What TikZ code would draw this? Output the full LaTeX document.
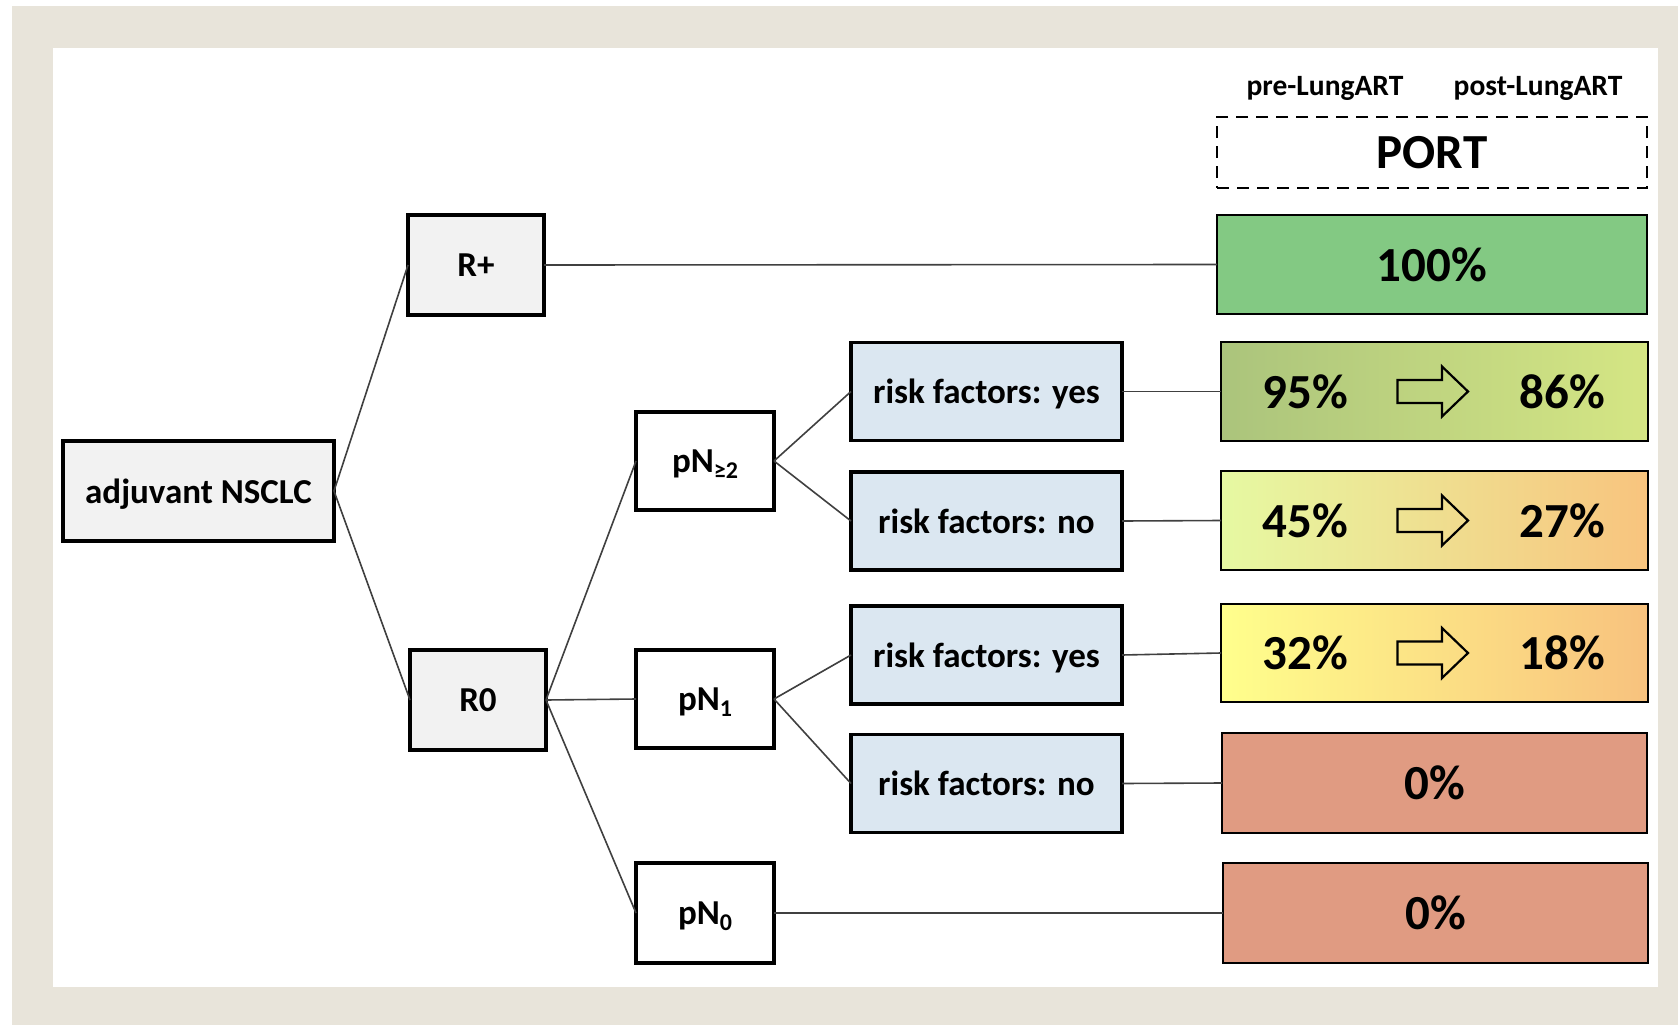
\documentclass[tikz,border=0pt]{standalone}
\usepackage{fontspec}
\usetikzlibrary{calc}
\setmainfont{Carlito}
\definecolor{beige}{HTML}{E8E4DA}
\definecolor{boxgrey}{HTML}{F2F2F2}
\definecolor{riskblue}{HTML}{DBE7F1}
\definecolor{greenfull}{HTML}{83C983}
\definecolor{salmon}{HTML}{E09B82}
\definecolor{gAleft}{HTML}{ABC47C}
\definecolor{gAright}{HTML}{D5E684}
\definecolor{gBleft}{HTML}{E6F9A2}
\definecolor{gBright}{HTML}{F8C47E}
\definecolor{gCleft}{HTML}{FFFF8C}
\definecolor{gCright}{HTML}{F8C27E}
\definecolor{linegrey}{HTML}{404040}
\newcommand{\lowsub}[1]{\raisebox{-6pt}{\fontsize{24}{24}\selectfont #1}}
\begin{document}
\begin{tikzpicture}[x=1pt,y=-1pt,
  every node/.style={font=\fontsize{35}{40}\selectfont\bfseries, inner sep=0pt, outer sep=0pt, text depth=0pt},
  box/.style={draw=black, line width=3.5pt, rectangle},
  greybox/.style={box, fill=boxgrey, minimum width=136pt, minimum height=100pt},
  pnbox/.style={box, fill=white, minimum width=138pt, minimum height=98pt},
  riskbox/.style={box, fill=riskblue, minimum width=271pt, minimum height=98pt},
  resbox/.style={draw=black, line width=2.5pt, rectangle, minimum width=427pt, minimum height=99pt, font=\fontsize{49}{54}\selectfont\bfseries},
  pct/.style={font=\fontsize{49}{54}\selectfont\bfseries},
  headlabel/.style={font=\fontsize{29.5}{34}\selectfont\bfseries},
  conn/.style={draw=linegrey, line width=1.6pt},
  blockarrow/.style={draw=black, line width=2.2pt, line join=miter}
]
\useasboundingbox (0,0) rectangle (1678,1025);
\fill[white] (0,0) rectangle (1678,1025);
\fill[beige] (12,6) rectangle (1678,1025);
\fill[white] (53,48) rectangle (1658,987);

% left tree
\node[greybox, minimum width=271pt] (adj) at (198.5,491) {adjuvant NSCLC};
\node[greybox] (rplus) at (476,265) {R+};
\node[greybox] (rzero) at (478,700) {R0};
\node[pnbox] (pn2) at (705,461) {pN\lowsub{≥2}};
\node[pnbox] (pn1) at (705,699) {pN\lowsub{1}};
\node[pnbox, minimum height=100pt] (pn0) at (705,913) {pN\lowsub{0}};
\node[riskbox] (ry1) at (986.5,391.5) {risk factors: yes};
\node[riskbox] (rn1) at (986.5,521) {risk factors: no};
\node[riskbox] (ry2) at (986.5,655) {risk factors: yes};
\node[riskbox] (rn2) at (986.5,783.5) {risk factors: no};

% right column
\node[headlabel] (pre) at (1325,86) {pre-LungART};
\node[headlabel] (post) at (1538,86) {post-LungART};
\node[draw=black, line width=2.5pt, dash pattern=on 12pt off 8pt, minimum width=430pt, minimum height=71pt, font=\fontsize{49}{54}\selectfont\bfseries] (port) at (1432,152.5) {PORT};
\node[resbox, fill=greenfull, minimum width=430pt] (r100) at (1432,264.5) {100\%};
\node[resbox, left color=gAleft, right color=gAright] (gA) at (1434.5,391.5) {};
\node[resbox, left color=gBleft, right color=gBright] (gB) at (1434.5,520.5) {};
\node[resbox, left color=gCleft, right color=gCright, minimum height=98pt] (gC) at (1434.5,653) {};
\node[resbox, fill=salmon, minimum width=425pt, minimum height=100pt] (z1) at (1434.5,783) {0\%};
\node[resbox, fill=salmon, minimum width=425pt, minimum height=100pt] (z2) at (1435.5,913) {0\%};

% percentages and arrows
\foreach \b/\l/\r in {gA/95/86, gB/45/27, gC/32/18}{
  \node[pct] (\b pre) at ($(\b.center)+(-129,0)$) {\l\%};
  \node[pct] (\b post) at ($(\b.center)+(128,0)$) {\r\%};
  \draw[blockarrow, shift={(\b.center)}] (-37,-11.5) -- (7.5,-11.5) -- (7.5,-25) -- (33.5,0) -- (7.5,25) -- (7.5,11.5) -- (-37,11.5) -- cycle;
}

% connectors
\draw[conn] (adj.east) -- (rplus.west);
\draw[conn] (adj.east) -- (rzero.west);
\draw[conn] (rplus.east) -- (r100.west);
\draw[conn] (rzero.east) -- (pn2.west);
\draw[conn] (rzero.east) -- (pn1.west);
\draw[conn] (rzero.east) -- (pn0.west);
\draw[conn] (pn2.east) -- (ry1.west);
\draw[conn] (pn2.east) -- (rn1.west);
\draw[conn] (pn1.east) -- (ry2.west);
\draw[conn] (pn1.east) -- (rn2.west);
\draw[conn] (ry1.east) -- (gA.west);
\draw[conn] (rn1.east) -- (gB.west);
\draw[conn] (ry2.east) -- (gC.west);
\draw[conn] (rn2.east) -- (z1.west);
\draw[conn] (pn0.east) -- (z2.west);
\end{tikzpicture}
\end{document}
